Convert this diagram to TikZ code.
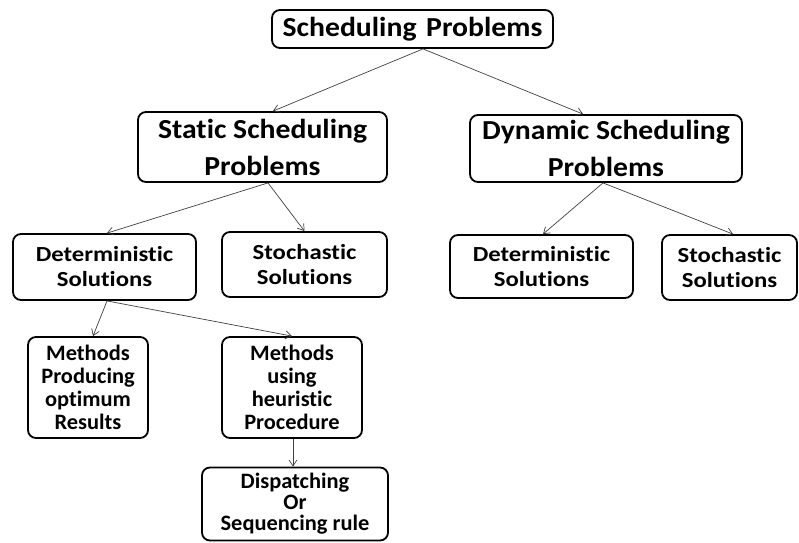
\documentclass[tikz,border=0pt]{standalone}
\usepackage{fontspec}
\setmainfont{Carlito}
\newfontfamily\bigfont[FakeStretch=1.08,Ligatures=NoCommon]{Carlito}
\newfontfamily\midfont[FakeStretch=1.15,Ligatures=NoCommon]{Carlito}
\newfontfamily\smallfont[FakeStretch=1.02,Ligatures=NoCommon]{Carlito}
\usetikzlibrary{arrows.meta}
\tikzset{
  box/.style={draw=black, line width=1.8pt, rounded corners=8pt, align=center,
    inner sep=0pt},
  conn/.style={draw=black!75, line width=0.7pt, -{Straight Barb[length=6pt,width=8pt]}},
  big/.style={font=\bigfont\bfseries\fontsize{27.5}{37}\selectfont},
  mid/.style={font=\midfont\bfseries\fontsize{21.5}{25}\selectfont},
  small/.style={font=\smallfont\bfseries\fontsize{22}{23}\selectfont},
  tight/.style={font=\smallfont\bfseries\fontsize{22}{21}\selectfont},
}
\begin{document}
\begin{tikzpicture}[x=1pt,y=-1pt]
\useasboundingbox (0,0) rectangle (799,542);
% hierarchy boxes
\node[box,big,minimum width=281pt,minimum height=38pt] (top) at (412.5,29) {Scheduling\hspace{0.35em}Problems};
\node[box,big,minimum width=249pt,minimum height=70pt] (static) at (262.5,147) {Static Scheduling\\Problems};
\node[box,big,minimum width=272pt,minimum height=67pt] (dynamic) at (606,148.5) {Dynamic Scheduling\\Problems};
\node[box,mid,minimum width=183pt,minimum height=66pt] (det1) at (104.5,267) {Deterministic\\Solutions};
\node[box,mid,minimum width=165pt,minimum height=65pt] (sto1) at (304.5,264.5) {Stochastic\\Solutions};
\node[box,mid,minimum width=183pt,minimum height=63pt] (det2) at (541.5,266.5) {Deterministic\\Solutions};
\node[box,mid,minimum width=135pt,minimum height=65pt] (sto2) at (729.5,267.5) {Stochastic\\Solutions};
\node[box,small,minimum width=120pt,minimum height=101pt] (meth1) at (88,387.5) {Methods\\Producing\\optimum\\Results};
\node[box,small,minimum width=140pt,minimum height=101pt] (meth2) at (292,387.5) {Methods\\using\\heuristic\\Procedure};
\node[box,tight,minimum width=186pt,minimum height=73pt] (disp) at (295,504) {Dispatching\\Or\\Sequencing rule};
% connectors
\draw[conn] ([xshift=10.5pt]top.south) -- ([xshift=10.5pt]static.north);
\draw[conn] ([xshift=10.5pt]top.south) -- ([xshift=-23pt]dynamic.north);
\draw[conn] ([xshift=5.5pt]static.south) -- ([xshift=2.5pt]det1.north);
\draw[conn] ([xshift=5.5pt]static.south) -- (sto1.north);
\draw[conn] ([xshift=-3pt]dynamic.south) -- ([xshift=1.5pt]det2.north);
\draw[conn] ([xshift=-3pt]dynamic.south) -- ([xshift=3.5pt]sto2.north);
\draw[conn] ([xshift=2.5pt]det1.south) -- ([xshift=5pt]meth1.north);
\draw[conn] ([xshift=2.5pt]det1.south) -- (meth2.north);
\draw[conn] ([xshift=1pt]meth2.south) -- ([xshift=-2pt]disp.north);
\end{tikzpicture}
\end{document}
